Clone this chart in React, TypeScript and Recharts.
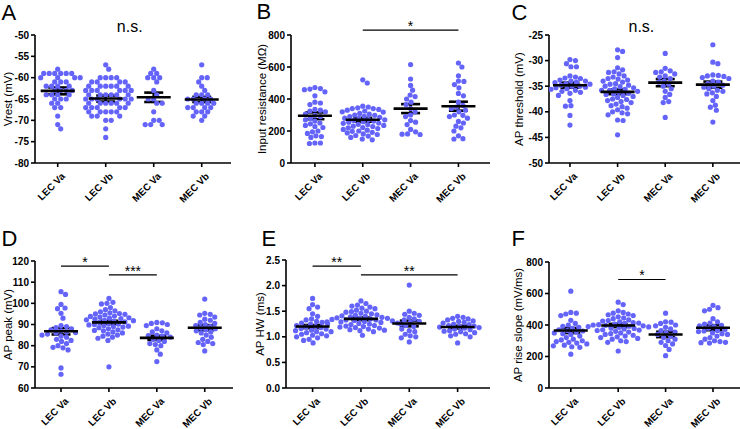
import React from 'react';
import { ScatterChart, Scatter, XAxis, YAxis, ErrorBar, ReferenceLine } from 'recharts';

const GROUPS = ['LEC Va', 'LEC Vb', 'MEC Va', 'MEC Vb'];
const FONT = '"Liberation Sans", Arial, Helvetica, sans-serif';
const DOT = '#6464fa';

// ---------- A: Vrest (mV) ----------
const vrestLecVa = [-58, -59, -59, -59, -59, -59, -59, -60, -60, -60, -60, -61, -61, -61, -62, -62, -62, -62, -63, -63, -63, -63, -64, -64, -64, -64, -65, -65, -65, -66, -66, -67, -67, -69, -71, -72];
const vrestLecVb = [-57, -58, -60, -60, -60, -60, -61, -61, -61, -61, -62, -62, -62, -62, -62, -62, -63, -63, -63, -63, -63, -63, -64, -64, -64, -64, -64, -64, -65, -65, -65, -65, -65, -65, -66, -66, -66, -66, -66, -66, -67, -67, -67, -67, -67, -68, -68, -68, -68, -68, -69, -69, -69, -70, -70, -72, -74];
const vrestMecVa = [-58, -59, -59, -60, -60, -60, -61, -63, -64, -65, -65, -66, -66, -68, -70, -70, -71, -71, -71];
const vrestMecVb = [-57, -60, -60, -61, -62, -63, -64, -64, -64, -65, -65, -65, -65, -66, -66, -66, -66, -67, -67, -67, -67, -68, -68, -68, -69, -69, -70];
const vrestMean = [-63.1, -64.9, -64.6, -65.1];
const vrestSem = [0.8, 0.7, 1.1, 0.6];

// ---------- B: Input resistance (MΩ) ----------
const rinLecVa = [472, 465, 462, 458, 445, 420, 380, 375, 365, 335, 330, 325, 320, 305, 298, 290, 280, 270, 262, 250, 245, 235, 228, 222, 200, 195, 185, 170, 165, 160, 125, 125, 122];
const rinLecVb = [520, 500, 355, 350, 345, 340, 340, 335, 330, 325, 320, 318, 310, 305, 300, 298, 292, 290, 285, 280, 278, 272, 270, 265, 262, 258, 255, 250, 248, 242, 240, 235, 230, 228, 222, 220, 215, 210, 205, 200, 198, 192, 188, 182, 178, 172, 168, 160, 150, 145];
const rinMecVa = [615, 525, 485, 455, 425, 415, 400, 380, 365, 340, 320, 300, 290, 265, 255, 240, 210, 195, 180, 178, 182];
const rinMecVb = [625, 600, 545, 510, 512, 490, 470, 435, 420, 380, 360, 350, 340, 330, 320, 300, 298, 290, 280, 260, 250, 230, 220, 200, 170, 150, 152];
const rinMean = [295, 270, 340, 355];
const rinSem = [21, 12, 28, 28];

// ---------- C: AP threshold (mV) ----------
const thrLecVa = [-29.8, -30.0, -30.6, -31.2, -31.2, -33.2, -33.4, -33.5, -33.8, -34.0, -34.0, -34.2, -34.5, -34.6, -34.8, -35.0, -35.0, -35.2, -35.5, -35.6, -35.8, -36.0, -36.2, -36.4, -36.8, -37.8, -38.8, -38.9, -40.7, -42.6, -33.0, -34.3, -35.3];
const thrLecVb = [-27.9, -28.2, -29.4, -31.4, -31.8, -32.2, -32.3, -32.6, -33.0, -33.2, -33.5, -33.6, -33.8, -34.0, -34.2, -34.5, -34.6, -34.8, -35.0, -35.1, -35.3, -35.5, -35.6, -35.8, -36.0, -36.2, -36.4, -36.6, -36.8, -37.0, -37.2, -37.5, -37.8, -38.0, -38.2, -38.5, -38.8, -39.0, -39.3, -39.6, -40.0, -40.2, -40.4, -40.6, -41.6, -41.7, -44.5, -36.5, -35.8, -37.6];
const thrMecVa = [-28.6, -31.5, -32.0, -32.2, -32.3, -32.6, -33.0, -33.5, -34.0, -34.2, -34.6, -35.0, -35.5, -36.0, -36.6, -37.2, -38.0, -38.2, -41.1, -33.2];
const thrMecVb = [-26.9, -30.3, -30.6, -32.8, -33.0, -33.1, -33.5, -34.0, -34.2, -34.5, -35.0, -35.2, -35.5, -36.0, -36.5, -37.0, -37.8, -38.7, -39.1, -39.7, -42.0, -33.3, -34.8, -35.8, -36.3, -32.9];
const thrMean = [-34.8, -36.1, -34.3, -34.7];
const thrSem = [0.5, 0.45, 0.7, 0.6];

// ---------- D: AP peak (mV) ----------
const pkLecVa = [105.5, 104.2, 99.5, 97.5, 97.8, 95.3, 93.0, 89.5, 88.5, 88.0, 87.5, 87.0, 86.5, 86.0, 85.5, 85.0, 84.5, 84.0, 83.0, 82.5, 82.0, 81.0, 80.0, 79.0, 79.2, 78.0, 69.5, 66.5, 89.0, 86.2];
const pkLecVb = [102.3, 100.5, 100.0, 99.7, 98.0, 97.0, 96.5, 96.0, 95.5, 95.0, 94.8, 94.5, 94.0, 93.5, 93.2, 93.0, 92.5, 92.2, 92.0, 91.5, 91.2, 91.0, 90.5, 90.2, 90.0, 89.5, 89.2, 89.0, 88.5, 88.0, 87.5, 87.2, 87.0, 86.5, 86.0, 85.5, 85.0, 84.5, 84.0, 83.5, 82.5, 70.0, 91.8, 92.8, 93.8, 95.2, 88.8, 89.8];
const pkMecVa = [91.0, 90.8, 90.5, 90.0, 89.5, 88.0, 87.0, 86.5, 86.0, 85.0, 84.5, 84.0, 83.0, 82.5, 82.0, 81.0, 80.5, 80.0, 78.0, 76.0, 72.5, 84.8];
const pkMecVb = [102.0, 95.3, 94.8, 94.5, 93.5, 92.5, 92.0, 91.0, 90.0, 89.0, 88.5, 88.0, 87.5, 87.0, 86.0, 85.0, 84.0, 83.0, 82.0, 81.5, 81.0, 80.5, 77.5, 89.5, 90.5, 86.5];
const pkMean = [86.8, 91.0, 83.7, 88.5];
const pkSem = [1.5, 0.75, 1.0, 1.2];

// ---------- E: AP HW (ms) ----------
const hwLecVa = [1.75, 1.63, 1.58, 1.55, 1.45, 1.40, 1.35, 1.33, 1.30, 1.28, 1.26, 1.25, 1.22, 1.20, 1.19, 1.18, 1.15, 1.13, 1.12, 1.10, 1.10, 1.08, 1.06, 1.05, 1.03, 1.02, 1.00, 0.98, 0.95, 0.93, 0.88, 1.16, 1.27];
const hwLecVb = [1.70, 1.65, 1.62, 1.60, 1.58, 1.56, 1.55, 1.52, 1.50, 1.49, 1.48, 1.46, 1.45, 1.43, 1.42, 1.40, 1.39, 1.38, 1.37, 1.36, 1.35, 1.34, 1.33, 1.32, 1.31, 1.30, 1.29, 1.28, 1.27, 1.26, 1.25, 1.24, 1.22, 1.21, 1.20, 1.19, 1.18, 1.17, 1.15, 1.14, 1.13, 1.12, 1.10, 1.03, 1.36, 1.41, 1.33, 1.29];
const hwMecVa = [2.01, 1.50, 1.46, 1.44, 1.42, 1.38, 1.35, 1.33, 1.30, 1.28, 1.25, 1.20, 1.15, 1.12, 1.10, 1.05, 1.02, 1.00, 0.98, 0.90, 1.22];
const hwMecVb = [1.40, 1.38, 1.36, 1.35, 1.33, 1.31, 1.30, 1.28, 1.27, 1.25, 1.24, 1.22, 1.21, 1.20, 1.19, 1.18, 1.17, 1.15, 1.14, 1.12, 1.11, 1.10, 1.08, 1.06, 1.05, 1.02, 1.00, 0.88];
const hwMean = [1.20, 1.35, 1.26, 1.19];
const hwSem = [0.03, 0.025, 0.055, 0.025];

// ---------- F: AP rise slope (mV/ms) ----------
const rsLecVa = [615, 480, 475, 470, 460, 430, 410, 400, 392, 385, 378, 370, 362, 355, 350, 340, 330, 320, 310, 300, 295, 290, 285, 280, 272, 268, 262, 258, 215, 365, 345, 305];
const rsLecVb = [545, 530, 490, 480, 475, 470, 465, 460, 452, 445, 440, 432, 428, 420, 415, 410, 405, 400, 398, 395, 390, 388, 385, 380, 375, 370, 365, 360, 355, 350, 345, 340, 335, 330, 325, 320, 315, 310, 300, 295, 290, 235, 402, 392, 412, 378, 368, 425];
const rsMecVa = [475, 420, 418, 410, 400, 395, 385, 375, 365, 355, 340, 330, 310, 300, 290, 280, 270, 245, 205, 350, 320];
const rsMecVb = [525, 510, 500, 490, 440, 420, 412, 405, 398, 390, 380, 372, 365, 358, 350, 340, 330, 320, 310, 300, 295, 290, 288, 285, 395, 362, 345];
const rsMean = [365, 397, 340, 383];
const rsSem = [16, 10, 17, 16];

// ---------- axis ticks ----------
const vrestTicks = [-80, -75, -70, -65, -60, -55, -50];
const rinTicks = [0, 200, 400, 600, 800];
const thrTicks = [-50, -45, -40, -35, -30, -25];
const pkTicks = [60, 70, 80, 90, 100, 110, 120];
const hwTicks = [0, 0.5, 1.0, 1.5, 2.0, 2.5];
const rsTicks = [0, 200, 400, 600, 800];

// ---------- significance annotations ----------
type Sig = { from: number; to: number; y: number; text: string };
const rinSig: Sig[] = [{ from: 1, to: 3, y: 831, text: '*' }];
const pkSig: Sig[] = [
  { from: 0, to: 1, y: 117.6, text: '*' },
  { from: 1, to: 2, y: 113.4, text: '***' },
];
const hwSig: Sig[] = [
  { from: 0, to: 1, y: 2.38, text: '**' },
  { from: 1, to: 3, y: 2.21, text: '**' },
];
const rsSig: Sig[] = [{ from: 1, to: 2, y: 689, text: '*' }];

type Panel = {
  letter: string;
  title: string;
  groups: number[][];
  mean: number[];
  sem: number[];
  yTicks: number[];
  yFmt: (v: number) => string;
  sig: Sig[];
  ns: boolean;
  // layout
  left: number; top: number; width: number; height: number;
  yW: number; mt: number; mr: number; xH: number; xDomain: [number, number];
  letterX: number; letterY: number; titleX: number;
};

const intFmt = (v: number) => String(v);
const oneDec = (v: number) => v.toFixed(1);

const panels: Panel[] = [
  { letter: 'A', title: 'Vrest (mV)', groups: [vrestLecVa, vrestLecVb, vrestMecVa, vrestMecVb], mean: vrestMean, sem: vrestSem, yTicks: vrestTicks, yFmt: intFmt, sig: [], ns: true,
    left: 0, top: 0, width: 245, height: 214, yW: 35, mt: 35, mr: 14, xH: 51, xDomain: [-0.473, 3.61], letterX: 1.5, letterY: 20, titleX: 11.5 },
  { letter: 'B', title: 'Input resistance (MΩ)', groups: [rinLecVa, rinLecVb, rinMecVa, rinMecVb], mean: rinMean, sem: rinSem, yTicks: rinTicks, yFmt: intFmt, sig: rinSig, ns: false,
    left: 245, top: 0, width: 245, height: 214, yW: 46, mt: 35, mr: 0, xH: 51, xDomain: [-0.5, 3.66], letterX: 256.5, letterY: 18.5, titleX: 265.5 },
  { letter: 'C', title: 'AP threshold (mV)', groups: [thrLecVa, thrLecVb, thrMecVa, thrMecVb], mean: thrMean, sem: thrSem, yTicks: thrTicks, yFmt: intFmt, sig: [], ns: true,
    left: 490, top: 0, width: 250, height: 214, yW: 59, mt: 35, mr: 0, xH: 51, xDomain: [-0.44, 3.57], letterX: 511.5, letterY: 20, titleX: 523 },
  { letter: 'D', title: 'AP peak (mV)', groups: [pkLecVa, pkLecVb, pkMecVa, pkMecVb], mean: pkMean, sem: pkSem, yTicks: pkTicks, yFmt: intFmt, sig: pkSig, ns: false,
    left: 0, top: 214, width: 245, height: 215, yW: 35, mt: 47, mr: 12, xH: 41, xDomain: [-0.543, 3.59], letterX: 1.5, letterY: 245.5, titleX: 12 },
  { letter: 'E', title: 'AP HW (ms)', groups: [hwLecVa, hwLecVb, hwMecVa, hwMecVb], mean: hwMean, sem: hwSem, yTicks: hwTicks, yFmt: oneDec, sig: hwSig, ns: false,
    left: 245, top: 214, width: 245, height: 215, yW: 41, mt: 46, mr: 0, xH: 41, xDomain: [-0.55, 3.67], letterX: 261.5, letterY: 245.5, titleX: 264 },
  { letter: 'F', title: 'AP rise slope (mV/ms)', groups: [rsLecVa, rsLecVb, rsMecVa, rsMecVb], mean: rsMean, sem: rsSem, yTicks: rsTicks, yFmt: intFmt, sig: rsSig, ns: false,
    left: 490, top: 214, width: 250, height: 215, yW: 59, mt: 48, mr: 0, xH: 41, xDomain: [-0.46, 3.57], letterX: 511.5, letterY: 245.5, titleX: 522 },
];

// deterministic beeswarm layout (pixel-based collision avoidance)
function swarm(groups: number[][], pxPerX: number, pxPerY: number, diam: number) {
  const out: { x: number; y: number }[] = [];
  groups.forEach((vals, gi) => {
    const placed: { dx: number; py: number }[] = [];
    const sorted = [...vals].sort((a, b) => b - a);
    sorted.forEach((v) => {
      const py = v * pxPerY;
      let dx = 0;
      for (let k = 0; k < 600; k++) {
        const cand = k === 0 ? 0 : (k % 2 === 1 ? 1 : -1) * Math.ceil(k / 2) * 0.5;
        if (placed.every((p) => (p.dx - cand) ** 2 + (p.py - py) ** 2 >= diam * diam)) {
          dx = cand;
          break;
        }
      }
      placed.push({ dx, py });
      out.push({ x: gi + dx / pxPerX, y: v });
    });
  });
  return out;
}

const XTick = (props: any) => {
  const { x, y, payload } = props;
  const ax = x + 8;
  const ay = y + 8;
  return (
    <text x={ax} y={ay} transform={`rotate(-45 ${ax} ${ay})`} textAnchor="end" fontSize={9.8} fontWeight="bold" fill="#000" fontFamily={FONT}>
      {GROUPS[payload.value]}
    </text>
  );
};

const Dot = (p: any) => <circle cx={p.cx} cy={p.cy} r={2.6} fill={DOT} />;
const MeanLine = (p: any) => (
  <line x1={p.cx - 17} x2={p.cx + 17} y1={p.cy} y2={p.cy} stroke="#000" strokeWidth={2.6} />
);

function PanelChart({ p }: { p: Panel }) {
  const plotW = p.width - p.yW - p.mr;
  const plotH = p.height - p.mt - p.xH;
  const yMin = p.yTicks[0];
  const yMax = p.yTicks[p.yTicks.length - 1];
  const pxPerX = plotW / (p.xDomain[1] - p.xDomain[0]);
  const pxPerY = plotH / (yMax - yMin);
  const pts = swarm(p.groups, pxPerX, pxPerY, 5.2);
  const means = p.mean.map((m, i) => ({ x: i, y: m, sem: p.sem[i] }));
  return (
    <div style={{ position: 'absolute', left: p.left, top: p.top }}>
      <ScatterChart width={p.width} height={p.height} margin={{ top: p.mt, right: p.mr, bottom: 0, left: 0 }}>
        <XAxis
          type="number"
          dataKey="x"
          domain={p.xDomain}
          ticks={[0, 1, 2, 3]}
          interval={0}
          allowDataOverflow
          height={p.xH}
          tick={<XTick />}
          tickSize={4}
          tickMargin={2}
          axisLine={{ stroke: '#000', strokeWidth: 1.6 }}
          tickLine={{ stroke: '#000', strokeWidth: 1.6 }}
        />
        <YAxis
          type="number"
          dataKey="y"
          domain={[yMin, yMax]}
          ticks={p.yTicks}
          interval={0}
          allowDataOverflow
          width={p.yW}
          tickFormatter={p.yFmt}
          tickSize={4}
          tickMargin={2}
          tick={{ fontSize: 10, fontWeight: 'bold', fill: '#000', fontFamily: FONT }}
          axisLine={{ stroke: '#000', strokeWidth: 1.6 }}
          tickLine={{ stroke: '#000', strokeWidth: 1.6 }}
        />
        <Scatter data={pts} shape={Dot} isAnimationActive={false} />
        <Scatter data={means} shape={MeanLine} isAnimationActive={false}>
          <ErrorBar dataKey="sem" direction="y" width={9.5} strokeWidth={2.6} stroke="#000" isAnimationActive={false} />
        </Scatter>
        {p.sig.map((s, i) => (
          <ReferenceLine
            key={i}
            segment={[{ x: s.from, y: s.y }, { x: s.to, y: s.y }]}
            stroke="#000"
            strokeWidth={1.2}
            ifOverflow="visible"
            label={{ value: s.text, position: 'top', offset: -1, fontSize: 14, fill: '#000', fontFamily: FONT }}
          />
        ))}
        {p.ns && (
          <ReferenceLine
            segment={[{ x: 0, y: yMax }, { x: 3, y: yMax }]}
            stroke="transparent"
            ifOverflow="visible"
            label={{ value: 'n.s.', position: 'top', offset: 3.3, fontSize: 16, fill: '#000', fontFamily: FONT }}
          />
        )}
      </ScatterChart>
    </div>
  );
}

export default function App() {
  return (
    <div style={{ position: 'absolute', left: 0, top: 0, width: 740, height: 429, background: '#fff', fontFamily: FONT, overflow: 'hidden' }}>
      {panels.map((p) => (
        <PanelChart key={p.letter} p={p} />
      ))}
      <svg width={740} height={429} style={{ position: 'absolute', left: 0, top: 0, pointerEvents: 'none' }}>
        {panels.map((p) => {
          const cy = p.top + p.mt + (p.height - p.mt - p.xH) / 2;
          return (
            <g key={p.letter}>
              <text x={p.letterX} y={p.letterY} fontSize={22} fill="#000" fontFamily={FONT}>{p.letter}</text>
              <text x={p.titleX} y={cy} transform={`rotate(-90 ${p.titleX} ${cy})`} textAnchor="middle" fontSize={11.5} fill="#000" fontFamily={FONT}>{p.title}</text>
            </g>
          );
        })}
      </svg>
    </div>
  );
}
